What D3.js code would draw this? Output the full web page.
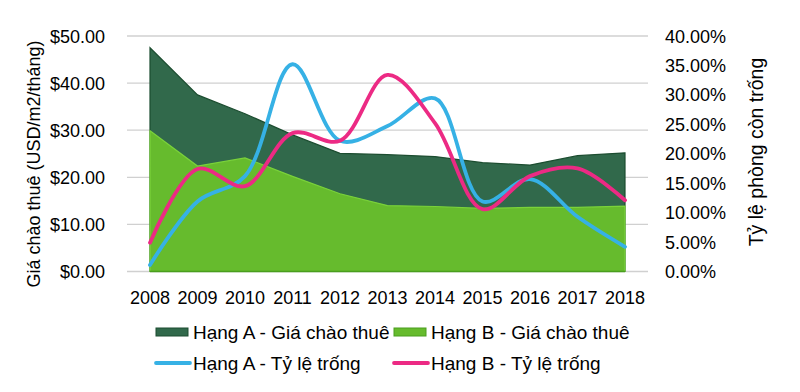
<!DOCTYPE html>
<html><head><meta charset="utf-8">
<script src="https://cdn.jsdelivr.net/npm/d3@7"></script>
<style>body{margin:0;background:#fff}svg{display:block;font-family:"Liberation Sans",Arial,sans-serif}</style>
</head><body>
<svg id="c" width="800" height="392"></svg>
<script>
const years = [2008,2009,2010,2011,2012,2013,2014,2015,2016,2017,2018];
const priceA = [47.5,37.5,33.5,29.0,25.1,24.8,24.4,23.1,22.6,24.6,25.2];
const priceB = [29.9,22.4,24.1,20.2,16.5,14.0,13.8,13.4,13.6,13.6,13.9];
const vacA = [1.1,11.9,16.2,35.2,22.2,24.7,29.4,11.9,15.7,9.3,4.2];
const vacB = [4.9,17.4,14.5,23.5,22.2,33.4,25.2,10.6,16.2,17.5,12.1];
const leftTicks = [0,10,20,30,40,50];
const rightTicks = [0,5,10,15,20,25,30,35,40];
const seriesNames = ["Hạng A - Giá chào thuê","Hạng B - Giá chào thuê","Hạng A - Tỷ lệ trống","Hạng B - Tỷ lệ trống"];

const svg = d3.select("#c");
const x = d3.scalePoint().domain(years).range([150,625]);
const yL = d3.scaleLinear().domain([0,50]).range([271.5,36]);
const yR = d3.scaleLinear().domain([0,40]).range([271.5,36]);

// grid
svg.append("g").selectAll("line").data(leftTicks).join("line")
  .attr("x1",127).attr("x2",648).attr("y1",d=>yL(d)).attr("y2",d=>yL(d))
  .attr("stroke","#d0d0d0").attr("stroke-width",1.3);

const area = d3.area().x((d,i)=>x(years[i])).y0(yL(0)).y1(d=>yL(d));
svg.append("path").datum(priceA).attr("d",area).attr("fill","#31694b").attr("stroke","#1c4d30").attr("stroke-width",1.2);
svg.append("path").datum(priceB).attr("d",area).attr("fill","#66bb2d").attr("stroke","#7ad23a").attr("stroke-width",1.2);
svg.append("line").attr("x1",150).attr("x2",625).attr("y1",yL(0)).attr("y2",yL(0)).attr("stroke","#4a9e1e").attr("stroke-width",1.5);

const line = d3.line().x((d,i)=>x(years[i])).y(d=>yR(d)).curve(d3.curveCatmullRom.alpha(0.5));
svg.append("path").datum(vacA).attr("d",line).attr("fill","none").attr("stroke","#36b1e5").attr("stroke-width",3.8).attr("stroke-linecap","round");
svg.append("path").datum(vacB).attr("d",line).attr("fill","none").attr("stroke","#ec2a84").attr("stroke-width",3.8).attr("stroke-linecap","round");

// left axis labels
svg.append("g").selectAll("text").data(leftTicks).join("text")
  .attr("x",105).attr("y",d=>yL(d)+6.5).attr("text-anchor","end")
  .attr("font-size",18).attr("fill","#000").text(d=>"$"+d.toFixed(2));
// right axis labels
svg.append("g").selectAll("text").data(rightTicks).join("text")
  .attr("x",665).attr("y",d=>yR(d)+6.5).attr("text-anchor","start")
  .attr("font-size",18).attr("fill","#000").text(d=>d.toFixed(2)+"%");
// x labels
svg.append("g").selectAll("text").data(years).join("text")
  .attr("x",d=>x(d)).attr("y",304).attr("text-anchor","middle")
  .attr("font-size",18).attr("fill","#000").text(d=>d);

// axis titles
svg.append("text").attr("transform","translate(40,164) rotate(-90)").attr("text-anchor","middle")
  .attr("font-size",18).attr("fill","#000").text("Giá chào thuê (USD/m2/tháng)");
svg.append("text").attr("transform","translate(763,152) rotate(-90)").attr("text-anchor","middle")
  .attr("font-size",19.5).attr("fill","#000").text("Tỷ lệ phòng còn trống");

// legend
const leg = [
  {x:156,y:332,type:"rect",fill:"#31694b",stroke:"#1c4d30"},
  {x:394,y:332,type:"rect",fill:"#66bb2d",stroke:"#4a9e1e"},
  {x:156,y:363,type:"line",stroke:"#36b1e5"},
  {x:394,y:363,type:"line",stroke:"#ec2a84"}
];
leg.forEach((l,i)=>{
  if(l.type==="rect"){
    svg.append("rect").attr("x",l.x).attr("y",l.y-4).attr("width",32).attr("height",8).attr("fill",l.fill).attr("stroke",l.stroke).attr("stroke-width",1);
  } else {
    svg.append("line").attr("x1",l.x).attr("x2",l.x+34).attr("y1",l.y).attr("y2",l.y).attr("stroke",l.stroke).attr("stroke-width",3.8).attr("stroke-linecap","round");
  }
  svg.append("text").attr("x",l.x+37).attr("y",l.y+6.5).attr("font-size",19).attr("fill","#000").text(seriesNames[i]);
});
</script>
</body></html>
